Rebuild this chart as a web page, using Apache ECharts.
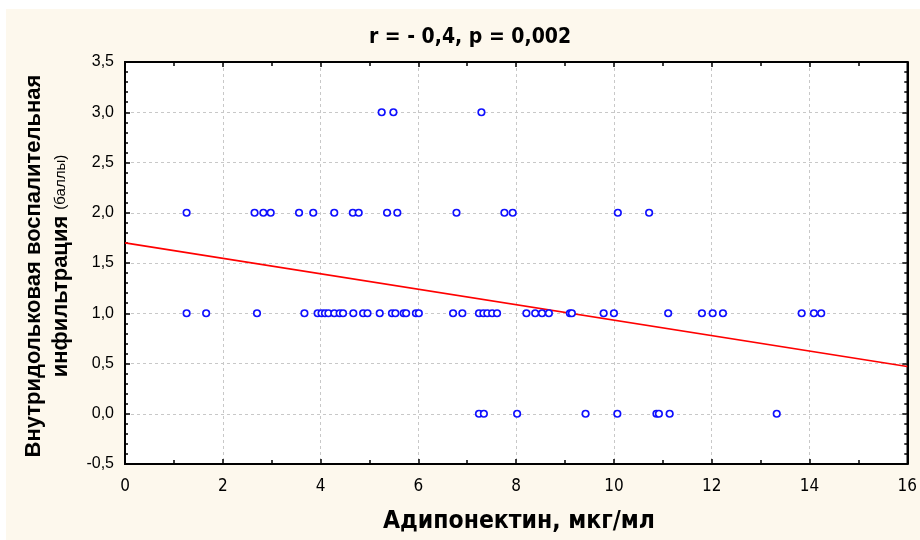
<!DOCTYPE html>
<html>
<head>
<meta charset="utf-8">
<script src="https://cdn.jsdelivr.net/npm/echarts@6/dist/echarts.min.js"></script>
<style>
  html, body { margin: 0; padding: 0; background: #ffffff; }
  #chart { width: 920px; height: 540px; }
</style>
</head>
<body>
<div id="chart"></div>
<script>
// ---- Data ----
const chartTitle = 'r = - 0,4, p = 0,002';
const xTitle = 'Адипонектин, мкг/мл';
const yTitleLine1 = 'Внутридольковая воспалительная';
const yTitleLine2 = 'инфильтрация ';
const yTitleUnit = '(баллы)';

// Adiponectin values (µg/ml) grouped by infiltration score
const adiponectinScore3 = [5.25, 5.49, 7.29];
const adiponectinScore2 = [1.26, 2.65, 2.83, 2.98, 3.56, 3.85, 4.28, 4.66, 4.78, 5.36, 5.57, 6.78, 7.76, 7.93, 10.08, 10.72];
const adiponectinScore1 = [1.26, 1.66, 2.70, 3.67, 3.94, 4.02, 4.09, 4.16, 4.28, 4.39, 4.46, 4.67, 4.87, 4.96,
  5.21, 5.46, 5.53, 5.70, 5.75, 5.95, 6.01, 6.71, 6.90, 7.24, 7.33, 7.41, 7.51, 7.61,
  8.21, 8.39, 8.53, 8.67, 9.10, 9.14, 9.79, 10.00, 11.11, 11.80, 12.02, 12.23, 13.84, 14.09, 14.24];
const adiponectinScore0 = [7.24, 7.34, 8.02, 9.42, 10.07, 10.87, 10.92, 11.14, 13.33];

const scoreLevels = [3, 2, 1, 0];
const adiponectinByScore = [adiponectinScore3, adiponectinScore2, adiponectinScore1, adiponectinScore0];

// Regression line end points
const regressionX = [0, 16];
const regressionY = [1.70, 0.47];

// ---- Build ----
const points = [];
scoreLevels.forEach((s, i) => adiponectinByScore[i].forEach(x => points.push([x, s])));
const regression = regressionX.map((x, i) => [x, regressionY[i]]);

const narrow = "'Liberation Sans Narrow', 'DejaVu Sans Condensed', 'Arial Narrow', sans-serif";
const regular = "'Liberation Sans', Arial, sans-serif";

const splitLine = { show: true, lineStyle: { color: '#c8c8c8', width: 1, type: [3, 3] } };
const axisLine = { show: true, onZero: false, lineStyle: { color: '#000', width: 2 } };
const majorTick = { show: true, inside: true, length: 5, lineStyle: { color: '#000', width: 1.5 } };

const chart = echarts.init(document.getElementById('chart'), null, { renderer: 'canvas' });
chart.setOption({
  backgroundColor: '#ffffff',
  animation: false,
  graphic: [
    { type: 'rect', z: -10, shape: { x: 6, y: 9, width: 914, height: 531 }, style: { fill: '#fdf8ed' } },
    { type: 'text', x: 470, y: 38, style: { text: chartTitle, font: "bold 21px " + narrow, fill: '#000', align: 'center', verticalAlign: 'middle' } },
    { type: 'text', x: 519, y: 522, style: { text: xTitle, font: "bold 24.5px " + narrow, fill: '#000', align: 'center', verticalAlign: 'middle' } },
    {
      type: 'text', x: 47, y: 266, rotation: Math.PI / 2,
      style: {
        text: '{b|' + yTitleLine1 + '}\n{b|' + yTitleLine2 + '}{s|' + yTitleUnit + '}',
        align: 'center', verticalAlign: 'middle',
        rich: {
          b: { font: "bold 22px " + regular, fill: '#000', lineHeight: 27 },
          s: { font: "15px " + regular, fill: '#000', lineHeight: 27 }
        }
      }
    }
  ],
  grid: {
    left: 125, right: 9, top: 62, bottom: 76,
    show: true, backgroundColor: '#ffffff', borderColor: '#000', borderWidth: 1.5
  },
  xAxis: [
    {
      type: 'value', min: 0, max: 16, interval: 2, position: 'bottom',
      axisLine: axisLine, axisTick: majorTick,
      minorTick: { show: true, splitNumber: 2, length: 4, lineStyle: { color: '#000', width: 1.5 } },
      axisLabel: { fontFamily: narrow, fontSize: 17, color: '#000', margin: 14 },
      splitLine: splitLine
    },
    {
      type: 'value', min: 0, max: 16, interval: 2, position: 'top',
      axisLine: axisLine, axisTick: majorTick,
      minorTick: { show: true, splitNumber: 2, length: 4, lineStyle: { color: '#000', width: 1.5 } },
      axisLabel: { show: false }, splitLine: { show: false }
    }
  ],
  yAxis: [
    {
      type: 'value', min: -0.5, max: 3.5, interval: 0.5, position: 'left',
      axisLine: axisLine, axisTick: majorTick,
      minorTick: { show: true, splitNumber: 5, length: 3, lineStyle: { color: '#000', width: 1.5 } },
      axisLabel: { fontFamily: regular, fontSize: 16, color: '#000', margin: 11,
        formatter: v => v.toFixed(1).replace('.', ',') },
      splitLine: splitLine
    },
    {
      type: 'value', min: -0.5, max: 3.5, interval: 0.5, position: 'right',
      axisLine: axisLine, axisTick: majorTick,
      minorTick: { show: true, splitNumber: 5, length: 3, lineStyle: { color: '#000', width: 1.5 } },
      axisLabel: { show: false }, splitLine: { show: false }
    }
  ],
  series: [
    {
      type: 'line', data: regression, xAxisIndex: 0, yAxisIndex: 0,
      showSymbol: false, symbol: 'none', z: 2,
      lineStyle: { color: '#ff0000', width: 1.6 }
    },
    {
      type: 'scatter', data: points, xAxisIndex: 0, yAxisIndex: 0, z: 3,
      symbol: 'circle', symbolSize: 6.5,
      itemStyle: { color: '#ffffff', borderColor: '#1010ff', borderWidth: 1.7, opacity: 1 }
    }
  ]
});
</script>
</body>
</html>
